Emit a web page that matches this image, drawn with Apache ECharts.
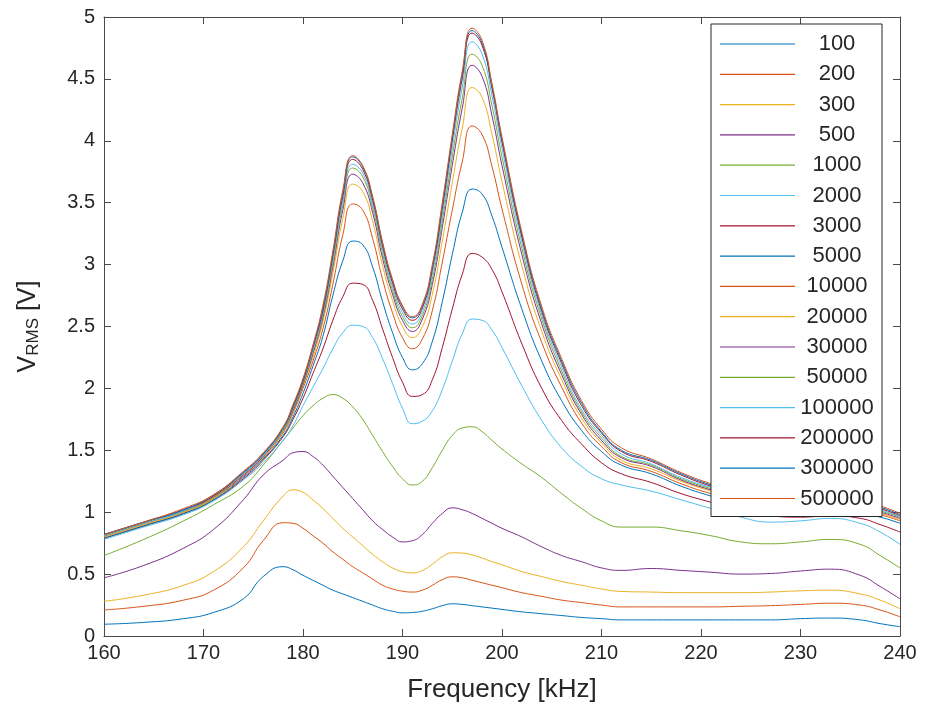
<!DOCTYPE html>
<html>
<head>
<meta charset="utf-8">
<script src="https://cdn.jsdelivr.net/npm/echarts@6/dist/echarts.min.js"></script>
<style>html,body{margin:0;padding:0;background:#fff}#c{width:925px;height:720px}</style>
</head>
<body>
<div id="c"></div>
<script>
const freqs = [160,164,168,171,174,176,178,179,180,181,182,183,184,185,186,187,188,189,190,191,192,193,194,195,196,197,198,199,200,202,204,206,208,210,212,215,218,221,224,227,230,233,236,238,240];

const seriesNames = ['100','200','300','500','1000','2000','3000','5000','10000','20000','30000','50000','100000','200000','300000','500000'];

const v100 = [0.095,0.11,0.14,0.19,0.30,0.48,0.56,0.535,0.49,0.45,0.41,0.37,0.34,0.31,0.28,0.25,0.22,0.20,0.187,0.19,0.20,0.22,0.245,0.26,0.255,0.245,0.235,0.225,0.215,0.195,0.18,0.165,0.15,0.14,0.13,0.13,0.13,0.13,0.13,0.13,0.14,0.145,0.13,0.10,0.075];
const v200 = [0.21,0.24,0.29,0.37,0.55,0.77,0.915,0.91,0.87,0.81,0.75,0.68,0.62,0.56,0.51,0.46,0.41,0.38,0.362,0.355,0.37,0.41,0.455,0.478,0.47,0.45,0.43,0.41,0.39,0.35,0.32,0.29,0.27,0.25,0.235,0.235,0.235,0.235,0.24,0.245,0.255,0.265,0.25,0.21,0.155];
const v300 = [0.28,0.33,0.41,0.52,0.72,0.93,1.13,1.18,1.16,1.10,1.03,0.95,0.87,0.80,0.73,0.66,0.60,0.55,0.52,0.51,0.53,0.58,0.64,0.672,0.67,0.655,0.63,0.60,0.575,0.52,0.48,0.44,0.41,0.38,0.36,0.355,0.35,0.35,0.35,0.355,0.365,0.37,0.34,0.29,0.22];
const v500 = [0.47,0.57,0.71,0.86,1.10,1.30,1.42,1.48,1.49,1.45,1.38,1.29,1.20,1.11,1.02,0.93,0.86,0.80,0.76,0.77,0.82,0.91,0.99,1.035,1.02,0.99,0.95,0.91,0.87,0.80,0.72,0.65,0.60,0.55,0.53,0.545,0.53,0.515,0.50,0.505,0.525,0.54,0.49,0.40,0.30];
const v1000 = [0.65,0.78,0.93,1.06,1.21,1.38,1.58,1.68,1.78,1.86,1.92,1.95,1.92,1.85,1.75,1.62,1.49,1.37,1.27,1.22,1.25,1.36,1.50,1.62,1.68,1.69,1.65,1.58,1.51,1.39,1.28,1.15,1.03,0.93,0.88,0.88,0.85,0.81,0.76,0.745,0.76,0.78,0.74,0.65,0.55];
const v2000 = [0.78,0.88,0.98,1.09,1.26,1.40,1.58,1.70,1.86,2.01,2.16,2.32,2.45,2.51,2.50,2.41,2.24,2.04,1.84,1.715,1.735,1.82,1.99,2.22,2.44,2.56,2.55,2.47,2.33,2.02,1.74,1.52,1.37,1.27,1.22,1.17,1.10,1.03,0.96,0.92,0.93,0.95,0.91,0.84,0.74];
const v3000 = [0.79,0.89,0.99,1.10,1.27,1.42,1.61,1.75,1.92,2.12,2.32,2.55,2.74,2.85,2.84,2.71,2.48,2.25,2.05,1.935,1.95,2.07,2.33,2.64,2.92,3.09,3.06,2.96,2.78,2.36,2.00,1.74,1.55,1.40,1.31,1.24,1.15,1.08,1.01,0.97,0.96,0.97,0.95,0.90,0.84];
const v5000 = [0.79,0.89,0.99,1.10,1.28,1.43,1.62,1.77,1.96,2.18,2.42,2.75,3.03,3.19,3.16,2.98,2.70,2.45,2.25,2.15,2.20,2.38,2.70,3.08,3.42,3.61,3.57,3.39,3.14,2.64,2.22,1.90,1.66,1.49,1.38,1.31,1.21,1.13,1.06,1.01,0.99,1.00,0.99,0.96,0.91];
const v10000 = [0.80,0.90,1.00,1.11,1.29,1.44,1.64,1.80,2.00,2.22,2.48,2.84,3.24,3.49,3.44,3.21,2.88,2.61,2.41,2.32,2.40,2.63,3.02,3.44,3.83,4.12,4.05,3.79,3.45,2.84,2.37,2.01,1.72,1.53,1.40,1.33,1.23,1.15,1.09,1.05,1.02,1.02,1.01,0.98,0.93];
const v20000 = [0.80,0.90,1.00,1.11,1.30,1.44,1.65,1.81,2.02,2.25,2.54,2.93,3.37,3.65,3.59,3.35,2.99,2.71,2.50,2.41,2.50,2.76,3.19,3.66,4.10,4.43,4.35,4.05,3.67,2.99,2.46,2.07,1.76,1.56,1.42,1.35,1.25,1.17,1.10,1.06,1.03,1.03,1.02,0.99,0.94];
const v30000 = [0.81,0.91,1.01,1.12,1.30,1.45,1.66,1.82,2.03,2.28,2.57,2.98,3.44,3.73,3.66,3.42,3.05,2.76,2.55,2.46,2.56,2.84,3.30,3.80,4.26,4.61,4.52,4.20,3.80,3.08,2.52,2.11,1.79,1.58,1.44,1.37,1.26,1.18,1.11,1.07,1.04,1.04,1.03,1.00,0.95];
const v50000 = [0.81,0.91,1.01,1.12,1.31,1.46,1.66,1.83,2.04,2.30,2.59,3.01,3.48,3.78,3.71,3.46,3.09,2.79,2.58,2.49,2.59,2.88,3.35,3.87,4.34,4.70,4.61,4.28,3.87,3.13,2.56,2.14,1.81,1.60,1.45,1.38,1.27,1.19,1.12,1.08,1.05,1.05,1.04,1.01,0.96];
const v100000 = [0.81,0.91,1.01,1.13,1.31,1.46,1.67,1.84,2.05,2.31,2.61,3.04,3.51,3.81,3.74,3.49,3.12,2.82,2.61,2.52,2.62,2.92,3.40,3.94,4.43,4.80,4.70,4.36,3.94,3.18,2.59,2.17,1.83,1.62,1.47,1.39,1.28,1.20,1.13,1.09,1.06,1.06,1.05,1.02,0.96];
const v200000 = [0.82,0.92,1.02,1.13,1.32,1.47,1.68,1.85,2.06,2.33,2.63,3.07,3.55,3.85,3.77,3.52,3.15,2.85,2.64,2.55,2.65,2.96,3.45,4.00,4.50,4.87,4.77,4.42,3.99,3.22,2.62,2.20,1.86,1.64,1.49,1.41,1.30,1.21,1.14,1.10,1.07,1.07,1.06,1.03,0.97];
const v300000 = [0.82,0.92,1.02,1.14,1.32,1.47,1.68,1.86,2.07,2.34,2.65,3.09,3.58,3.87,3.79,3.54,3.17,2.87,2.66,2.57,2.67,2.98,3.48,4.03,4.54,4.89,4.79,4.44,4.01,3.24,2.64,2.22,1.88,1.65,1.50,1.42,1.31,1.22,1.15,1.11,1.08,1.08,1.07,1.04,0.98];
const v500000 = [0.82,0.92,1.03,1.14,1.33,1.48,1.69,1.87,2.08,2.35,2.67,3.11,3.60,3.88,3.80,3.55,3.18,2.88,2.67,2.58,2.68,3.00,3.50,4.05,4.56,4.91,4.81,4.46,4.03,3.26,2.66,2.24,1.90,1.67,1.52,1.43,1.32,1.23,1.16,1.12,1.09,1.09,1.08,1.05,0.99];

const allValues = [v100,v200,v300,v500,v1000,v2000,v3000,v5000,v10000,v20000,v30000,v50000,v100000,v200000,v300000,v500000];

const xTicks = {min:160, max:240, interval:10};
const yTicks = {min:0, max:5, interval:0.5};

const palette = ['#0072BD','#D95319','#EDB120','#7E2F8E','#77AC30','#4DBEEE','#A2142F'];
const FONT = "'Liberation Sans', Arial, Helvetica, sans-serif";
const TXT = '#262626';
const AX = '#4a4a4a';

const series = seriesNames.map((n, k) => ({
  name: n,
  type: 'line',
  xAxisIndex: 0,
  yAxisIndex: 0,
  smooth: true,
  symbol: 'none',
  lineStyle: {width: 1, color: palette[k % 7]},
  itemStyle: {color: palette[k % 7]},
  data: freqs.map((f, i) => [f, allValues[k][i]]),
  z: 2,
  zlevel: 0
}));

const axisCommon = {
  splitLine: {show: false},
  axisLine: {show: true, onZero: false, lineStyle: {color: AX, width: 1}},
  axisTick: {show: true, inside: true, length: 7, lineStyle: {color: AX, width: 1}}
};

const chart = echarts.init(document.getElementById('c'), null, {renderer: 'canvas'});
chart.setOption({
  animation: false,
  backgroundColor: '#ffffff',
  textStyle: {fontFamily: FONT},
  grid: {left: 104, right: 25, top: 17, bottom: 84, containLabel: false},
  xAxis: [
    Object.assign({
      type: 'value', position: 'bottom', min: xTicks.min, max: xTicks.max, interval: xTicks.interval,
      name: 'Frequency [kHz]', nameLocation: 'middle', nameGap: 41,
      nameTextStyle: {fontSize: 26, color: TXT, fontFamily: FONT},
      axisLabel: {fontSize: 20, color: TXT, margin: 7, fontFamily: FONT}
    }, axisCommon),
    Object.assign({
      type: 'value', position: 'top', min: xTicks.min, max: xTicks.max, interval: xTicks.interval,
      axisLabel: {show: false}
    }, axisCommon)
  ],
  yAxis: [
    Object.assign({
      type: 'value', position: 'left', min: yTicks.min, max: yTicks.max, interval: yTicks.interval,
      name: '{v|V}{s|RMS}{v| [V]}', nameLocation: 'middle', nameGap: 62,
      nameTextStyle: {
        color: TXT, fontFamily: FONT,
        rich: {
          v: {fontSize: 25, color: TXT, fontFamily: FONT, lineHeight: 28},
          s: {fontSize: 17, color: TXT, fontFamily: FONT, lineHeight: 28, padding: [11, 0, 0, 0]}
        }
      },
      axisLabel: {fontSize: 20, color: TXT, margin: 9, fontFamily: FONT}
    }, axisCommon),
    Object.assign({
      type: 'value', position: 'right', min: yTicks.min, max: yTicks.max, interval: yTicks.interval,
      axisLabel: {show: false}
    }, axisCommon)
  ],
  legend: {
    show: true,
    z: 20,
    zlevel: 0,
    orient: 'vertical',
    left: 711, top: 24,
    padding: [9, 8, 7, 9],
    itemWidth: 75, itemHeight: 1.2, itemGap: 8.3,
    icon: 'rect',
    backgroundColor: '#ffffff',
    borderColor: '#262626', borderWidth: 1,
    data: seriesNames,
    formatter: n => '{c|' + n + '}',
    textStyle: {
      color: TXT, fontFamily: FONT, fontSize: 22,
      rich: {c: {width: 74, align: 'center', fontSize: 22, lineHeight: 22, color: TXT, fontFamily: FONT}}
    }
  },
  series: series
});
</script>
</body>
</html>
